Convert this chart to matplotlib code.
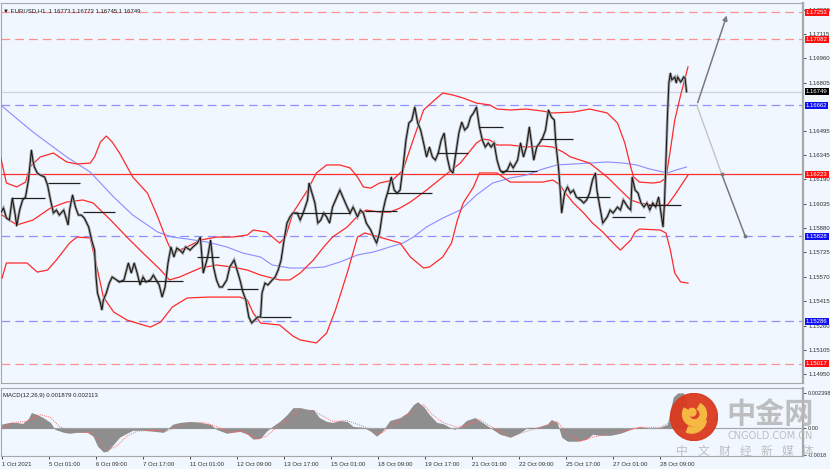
import matplotlib
matplotlib.use("Agg")
import matplotlib.pyplot as plt
import matplotlib.patches as mpatches
import matplotlib.transforms as mtrans

plt.rcParams['font.family'] = ['Liberation Sans', 'DejaVu Sans']

# ---- price path (bar number, close) ----
bar_idx = [-1, 1, 3, 5, 7, 9, 10, 12, 14, 16, 18, 20, 21, 22, 24, 26, 29, 31, 33, 35, 37, 39, 42, 44, 45, 46, 48, 50,
           52, 54, 56, 59, 61, 63, 64, 65, 67, 68, 69, 71, 73, 75, 78, 80, 83, 86, 88, 90, 92, 94, 96, 98, 101, 103,
           105, 107, 109, 111, 113, 115, 117, 119, 121, 123, 125, 128, 130, 133, 135, 137, 140, 142, 144, 146, 148,
           150, 153, 155, 158, 160, 162, 164, 166, 168, 170, 172, 174, 176, 177, 179, 181, 184, 186, 188, 190, 192,
           194, 196, 198, 201, 203, 205, 208, 209, 211, 213, 215, 217, 219, 221, 223, 225, 228, 230, 232, 235, 237,
           239, 242, 244, 246, 248, 251, 253, 255, 257, 259, 261, 263, 265, 267, 269, 271, 273, 275, 277, 279, 281,
           283, 285, 287, 289, 291, 293, 295, 297, 299, 301, 303, 305, 307, 309, 311, 313, 315, 317, 319, 321, 323,
           325, 327, 329, 331, 333, 335, 337, 339, 341, 344, 346, 348, 351, 353, 355, 357, 359, 362, 364, 366, 368,
           370, 372, 374, 376, 377, 379, 380, 381, 383, 385, 387, 389, 391, 394, 396, 398, 400, 402, 404, 405, 407,
           409, 412, 414, 416, 419, 421, 423, 426, 428, 429, 431, 433, 435, 437, 439, 441, 443, 445, 447, 449, 450,
           451, 452, 453, 454, 455, 456, 458, 459, 460, 462, 463, 464, 465, 466]
close = [1.15976, 1.16008, 1.15944, 1.15931, 1.16072, 1.15963, 1.15893, 1.15995, 1.16059, 1.16078, 1.16186, 1.16377,
         1.16313, 1.16269, 1.16231, 1.16218, 1.16205, 1.16154, 1.16059, 1.15976, 1.15995, 1.15963, 1.15995, 1.15931,
         1.15900, 1.15995, 1.16091, 1.16014, 1.15963, 1.15963, 1.15944, 1.15887, 1.15804, 1.15740, 1.15569, 1.15467,
         1.15403, 1.15359, 1.15422, 1.15467, 1.15530, 1.15569, 1.15550, 1.15537, 1.15550, 1.15658, 1.15594, 1.15658,
         1.15594, 1.15518, 1.15569, 1.15537, 1.15550, 1.15581, 1.15550, 1.15518, 1.15441, 1.15505, 1.15658, 1.15760,
         1.15696, 1.15753, 1.15740, 1.15721, 1.15760, 1.15740, 1.15760, 1.15785, 1.15823, 1.15594, 1.15696, 1.15804,
         1.15632, 1.15550, 1.15505, 1.15505, 1.15550, 1.15632, 1.15677, 1.15613, 1.15550, 1.15473, 1.15422, 1.15314,
         1.15276, 1.15295, 1.15314, 1.15314, 1.15467, 1.15530, 1.15518, 1.15550, 1.15569, 1.15613, 1.15677, 1.15804,
         1.15912, 1.15951, 1.15976, 1.15976, 1.15931, 1.15976, 1.16059, 1.16167, 1.16103, 1.16040, 1.15912, 1.15931,
         1.15976, 1.15951, 1.15912, 1.16014, 1.16078, 1.16122, 1.16078, 1.16014, 1.15976, 1.16014, 1.15951, 1.15995,
         1.15976, 1.15912, 1.15868, 1.15823, 1.15785, 1.15849, 1.15976, 1.16059, 1.16122, 1.16205, 1.16122, 1.16103,
         1.16122, 1.16269, 1.16441, 1.16549, 1.16568, 1.16651, 1.16549, 1.16504, 1.16422, 1.16333, 1.16396, 1.16333,
         1.16313, 1.16358, 1.16441, 1.16485, 1.16333, 1.16250, 1.16231, 1.16358, 1.16485, 1.16555, 1.16504, 1.16524,
         1.16587, 1.16613, 1.16651, 1.16524, 1.16441, 1.16396, 1.16422, 1.16396, 1.16422, 1.16313, 1.16250, 1.16231,
         1.16250, 1.16294, 1.16263, 1.16313, 1.16422, 1.16333, 1.16396, 1.16524, 1.16313, 1.16396, 1.16422, 1.16453,
         1.16504, 1.16632, 1.16587, 1.16568, 1.16422, 1.16250, 1.16122, 1.15976, 1.16103, 1.16142, 1.16103, 1.16122,
         1.16078, 1.16059, 1.16040, 1.16059, 1.16103, 1.16186, 1.16231, 1.16122, 1.16014, 1.15912, 1.15951, 1.15995,
         1.15976, 1.16014, 1.15995, 1.16059, 1.16014, 1.15995, 1.16205, 1.16122, 1.16103, 1.16040, 1.16014, 1.16040,
         1.15995, 1.16040, 1.16014, 1.16078, 1.15951, 1.15887, 1.16040, 1.16313, 1.16587, 1.16804, 1.16867, 1.16823,
         1.16842, 1.16804, 1.16842, 1.16810, 1.16823, 1.16842, 1.16835, 1.16749]

# daily marker lines: start bar, end bar, price
day_start = [7, 31, 55, 78, 133, 153, 176, 199, 247, 262, 296, 325, 339, 366, 392, 415, 440]
day_end = [29, 53, 77, 123, 148, 174, 197, 237, 269, 293, 317, 341, 364, 389, 414, 438, 462]
day_price = [1.16072, 1.16167, 1.15982, 1.15543, 1.15696, 1.15492, 1.15314, 1.15976, 1.15989, 1.16103, 1.16358,
             1.16524, 1.16243, 1.16447, 1.16078, 1.15951, 1.16027]

# bollinger bands
up_idx = [-1, 3, 10, 16, 19, 26, 35, 44, 51, 60, 63, 67, 71, 75, 80, 89, 99, 106, 112, 116, 126, 135, 146, 157, 167,
          171, 180, 189, 193, 198, 208, 214, 221, 230, 237, 242, 246, 251, 257, 266, 273, 278, 287, 293, 300, 307,
          314, 323, 332, 337, 346, 357, 368, 375, 389, 400, 412, 419, 424, 428, 430, 434, 443, 448, 452, 455, 458,
          462, 467]
up_val = [1.16333, 1.16167, 1.16142, 1.16173, 1.16269, 1.16333, 1.16358, 1.16301, 1.16288, 1.16294, 1.16333, 1.16428,
          1.16466, 1.16428, 1.16358, 1.16205, 1.16103, 1.15951, 1.15804, 1.15721, 1.15760, 1.15804, 1.15823, 1.15823,
          1.15836, 1.15868, 1.15855, 1.15785, 1.15823, 1.15976, 1.16122, 1.16231, 1.16282, 1.16282, 1.16263, 1.16205,
          1.16142, 1.16135, 1.16167, 1.16186, 1.16250, 1.16390, 1.16632, 1.16683, 1.16740, 1.16727, 1.16708, 1.16676,
          1.16664, 1.16638, 1.16632, 1.16638, 1.16625, 1.16613, 1.16619, 1.16638, 1.16613, 1.16549, 1.16422, 1.16269,
          1.16205, 1.16173, 1.16167, 1.16173, 1.16199, 1.16377, 1.16568, 1.16727, 1.16906]
mid_idx = [0, 10, 21, 33, 44, 55, 62, 74, 85, 96, 108, 114, 121, 135, 146, 157, 167, 176, 189, 196, 203, 212, 219,
           225, 235, 244, 248, 257, 264, 271, 278, 289, 300, 312, 323, 327, 332, 337, 346, 357, 368, 375, 382, 387,
           400, 412, 421, 428, 434, 443, 453, 458, 467]
mid_val = [1.15963, 1.15900, 1.15931, 1.16008, 1.16046, 1.16059, 1.16040, 1.15931, 1.15823, 1.15721, 1.15613, 1.15550,
           1.15569, 1.15626, 1.15645, 1.15632, 1.15613, 1.15581, 1.15550, 1.15550, 1.15594, 1.15677, 1.15760, 1.15823,
           1.15887, 1.15976, 1.15995, 1.15982, 1.15982, 1.16008, 1.16046, 1.16122, 1.16205, 1.16294, 1.16422, 1.16447,
           1.16441, 1.16409, 1.16409, 1.16396, 1.16403, 1.16396, 1.16364, 1.16333, 1.16294, 1.16205, 1.16122, 1.16059,
           1.16040, 1.16027, 1.16027, 1.16091, 1.16218]
low_idx = [0, 3, 17, 24, 31, 37, 46, 51, 60, 65, 69, 76, 85, 94, 101, 108, 116, 126, 140, 153, 162, 167, 171, 176,
           189, 198, 203, 214, 221, 227, 235, 242, 247, 257, 271, 278, 287, 291, 300, 306, 310, 314, 321, 325, 337,
           341, 346, 355, 368, 375, 380, 383, 389, 396, 402, 409, 416, 421, 428, 431, 434, 448, 452, 455, 458, 462, 467]
low_val = [1.15562, 1.15658, 1.15658, 1.15600, 1.15613, 1.15677, 1.15785, 1.15823, 1.15817, 1.15613, 1.15441, 1.15346,
           1.15295, 1.15269, 1.15250, 1.15282, 1.15378, 1.15435, 1.15441, 1.15441, 1.15441, 1.15422, 1.15340, 1.15276,
           1.15263, 1.15193, 1.15168, 1.15149, 1.15212, 1.15359, 1.15594, 1.15823, 1.15849, 1.15823, 1.15785, 1.15696,
           1.15626, 1.15632, 1.15696, 1.15785, 1.15931, 1.16040, 1.16142, 1.16231, 1.16231, 1.16205, 1.16173, 1.16173,
           1.16173, 1.16186, 1.16154, 1.16110, 1.16040, 1.15976, 1.15912, 1.15855, 1.15785, 1.15740, 1.15804, 1.15855,
           1.15874, 1.15868, 1.15849, 1.15740, 1.15594, 1.15537, 1.15530]

# slow moving average (blue)
ma_idx = [-1, 21, 44, 60, 76, 89, 106, 116, 126, 140, 153, 164, 176, 184, 196, 208, 219, 230, 242, 253, 264, 273, 280,
          289, 300, 312, 323, 334, 346, 357, 368, 378, 389, 400, 412, 423, 432, 441, 453, 459, 466]
ma_val = [1.16664, 1.16492, 1.16333, 1.16237, 1.16078, 1.15963, 1.15855, 1.15823, 1.15811, 1.15791, 1.15760, 1.15721,
          1.15696, 1.15645, 1.15626, 1.15626, 1.15632, 1.15664, 1.15709, 1.15728, 1.15760, 1.15785, 1.15823, 1.15887,
          1.15944, 1.15995, 1.16091, 1.16167, 1.16199, 1.16218, 1.16256, 1.16282, 1.16288, 1.16294, 1.16301, 1.16294,
          1.16282, 1.16256, 1.16231, 1.16250, 1.16269]

# horizontal levels
red_dash_levels = [1.17253, 1.17082, 1.15017]
blue_dash_levels = [1.16662, 1.15828, 1.15286]
red_solid_level = 1.16223
last_price = 1.16749
level_tags = [("1.17253", 1.17253, "#FF1010"), ("1.17082", 1.17082, "#FF1010"), ("1.16749", 1.16749, "#000000"),
              ("1.16662", 1.16662, "#1010F0"), ("1.16223", 1.16223, "#FF1010"), ("1.15828", 1.15828, "#1010F0"),
              ("1.15286", 1.15286, "#1010F0"), ("1.15017", 1.15017, "#FF1010")]

# projection arrows (bar, price)
arrow_start = (473, 1.16662)
up_target = (494, 1.17250)
down_mid = (490, 1.16223)
down_target = (506, 1.15828)

# 1.16650 sits under the 1.16662 tag in the original, so it is left out
price_ticks = [1.17270, 1.17115, 1.16960, 1.16805, 1.16495, 1.16345, 1.16190, 1.16035, 1.15880, 1.15725,
               1.15570, 1.15415, 1.15260, 1.15105, 1.14950]

# MACD
hist_idx = [-1, 5, 10, 14, 18, 20, 24, 28, 33, 36, 42, 46, 51, 58, 62, 65, 69, 72, 76, 80, 85, 89, 96, 103, 110, 114,
            116, 121, 128, 135, 142, 146, 153, 157, 162, 167, 171, 176, 180, 184, 189, 194, 198, 203, 208, 212, 216,
            221, 225, 230, 235, 239, 246, 251, 255, 259, 264, 271, 276, 280, 283, 287, 291, 296, 300, 305, 308, 312,
            316, 322, 326, 332, 339, 346, 353, 358, 364, 371, 374, 378, 381, 385, 392, 398, 402, 407, 414, 421, 430,
            434, 441, 448, 453, 455, 457, 460, 464, 466]
hist_val = [0.00027, 0.00040, 0.00040, 0.00033, 0.00067, 0.00107, 0.00093, 0.00073, 0.00040, -0.00007, -0.00027,
            -0.00033, -0.00027, -0.00027, -0.00053, -0.00120, -0.00160, -0.00153, -0.00107, -0.00060, -0.00033,
            -0.00013, -0.00013, -0.00020, -0.00027, 0.00007, 0.00027, 0.00040, 0.00047, 0.00040, 0.00027, -0.00007,
            -0.00033, -0.00027, -0.00020, -0.00040, -0.00073, -0.00067, -0.00020, 0.00013, 0.00047, 0.00093, 0.00140,
            0.00140, 0.00127, 0.00127, 0.00073, 0.00047, 0.00040, 0.00053, 0.00047, 0.00013, 0.00007, -0.00020,
            -0.00053, -0.00020, 0.00053, 0.00073, 0.00107, 0.00160, 0.00180, 0.00147, 0.00093, 0.00040, 0.00033,
            0.00007, -0.00007, 0.00013, 0.00053, 0.00073, 0.00047, 0.00007, -0.00040, -0.00060, -0.00027, 0.00007,
            0.00007, 0.00027, 0.00060, 0.00040, -0.00060, -0.00087, -0.00087, -0.00073, -0.00040, -0.00047, -0.00047,
            -0.00033, 0.0, 0.00013, 0.0, 0.00007, 0.00027, 0.00127, 0.00213, 0.00240, 0.00240, 0.00188]
sig_idx = [-1, 7, 17, 26, 33, 39, 48, 60, 67, 71, 78, 85, 92, 101, 112, 119, 128, 137, 146, 155, 164, 174, 180, 187,
           196, 203, 212, 219, 225, 235, 244, 251, 257, 264, 273, 280, 287, 293, 300, 310, 319, 325, 334, 346, 355,
           366, 378, 385, 394, 402, 412, 423, 434, 448, 455, 460, 466]
sig_val = [-0.00007, 0.00040, 0.00047, 0.00093, 0.00073, 0.00013, -0.00027, -0.00027, -0.00087, -0.00153, -0.00120,
           -0.00053, -0.00020, -0.00013, -0.00020, 0.00013, 0.00040, 0.00040, 0.00013, -0.00027, -0.00020, -0.00073,
           -0.00053, 0.00007, 0.00073, 0.00133, 0.00120, 0.00080, 0.00047, 0.00053, 0.00020, -0.00007, -0.00040,
           0.00007, 0.00073, 0.00127, 0.00160, 0.00093, 0.00040, 0.00007, 0.00033, 0.00060, 0.00007, -0.00060, -0.00027,
           0.00007, 0.00047, -0.00040, -0.00087, -0.00060, -0.00040, -0.00020, 0.00007, 0.00007, 0.00040, 0.00173,
           0.00211]

date_ticks = [0, 32, 64, 96, 128, 160, 192, 224, 256, 288, 320, 352, 384, 416, 448]
date_labels = ["1 Oct 2021", "5 Oct 01:00", "6 Oct 09:00", "7 Oct 17:00", "11 Oct 01:00", "12 Oct 09:00",
               "13 Oct 17:00", "15 Oct 01:00", "18 Oct 09:00", "19 Oct 17:00", "21 Oct 01:00", "22 Oct 09:00",
               "25 Oct 17:00", "27 Oct 01:00", "28 Oct 09:00"]

# ---- figure ----
W, H = 830, 469
bg = '#F0F7FF'
fig = plt.figure(figsize=(W / 100, H / 100), dpi=100)
fig.patch.set_facecolor(bg)

ax = fig.add_axes([1 / W, 1 - 383 / H, 802 / W, 380 / H])
am = fig.add_axes([1 / W, 1 - 456 / H, 802 / W, 68 / H])
for a in (ax, am):
    a.set_facecolor(bg)
    for s in a.spines.values():
        s.set_color('#A8A8A8')
        s.set_linewidth(0.8)
    a.spines['right'].set_linewidth(1.6)
    a.set_xlim(-0.7, 545.3)

ax.set_ylim(1.14894, 1.17313)

# levels
for lv in red_dash_levels:
    ax.axhline(lv, color='#FF9090', lw=0.9, ls=(0, (7, 4)), zorder=1)
for lv in blue_dash_levels:
    ax.axhline(lv, color='#9090FF', lw=0.9, ls=(0, (7, 4)), zorder=1)
ax.axhline(red_solid_level, color='#FF3030', lw=0.9, zorder=2)
ax.axhline(last_price, color='#D0D4DA', lw=0.9, zorder=1)

# indicators
ax.plot(ma_idx, ma_val, color='#8C8CFF', lw=0.8, zorder=2)
ax.plot(up_idx, up_val, color='#FF2A2A', lw=0.9, zorder=3)
ax.plot(mid_idx, mid_val, color='#FF2A2A', lw=0.9, zorder=3)
ax.plot(low_idx, low_val, color='#FF2A2A', lw=0.9, zorder=3)

# price bars
ax.plot(bar_idx, close, color='#A4A4A4', lw=2.0, zorder=4, solid_joinstyle='miter')
ax.plot(bar_idx, close, color='#151515', lw=0.75, zorder=5)
ax.hlines(day_price, day_start, day_end, color='#202020', lw=0.9, zorder=5)

# projection arrows
ax.annotate('', xy=up_target, xytext=arrow_start,
            arrowprops=dict(arrowstyle='-|>', color='#7A7A7A', lw=1.1, mutation_scale=7), zorder=6)
ax.plot([arrow_start[0], down_mid[0]], [arrow_start[1], down_mid[1]], color='#C4C4C4', lw=1.0, zorder=6)
ax.plot([down_mid[0], down_target[0]], [down_mid[1], down_target[1]], color='#7A7A7A', lw=1.1, zorder=6)
ax.plot([down_mid[0], down_target[0]], [down_mid[1], down_target[1]], ls='none', marker='o', ms=1.8,
        color='#7A7A7A', zorder=6)

# price axis
ax.yaxis.tick_right()
ax.set_yticks(price_ticks)
ax.set_yticklabels(['%.5f' % v for v in price_ticks])
ax.tick_params(axis='y', labelsize=4.3, colors='#303030', length=2, width=0.6, pad=2)
ax.tick_params(axis='x', bottom=False, labelbottom=False)

trans = mtrans.blended_transform_factory(ax.transAxes, ax.transData)
for txt, lv, col in level_tags:
    ax.text(1.0035, lv, txt, transform=trans, fontsize=4.3, color='white', va='center', ha='left',
            clip_on=False, zorder=10, bbox=dict(facecolor=col, edgecolor='none', pad=0.8))

ax.text(0.003, 0.985, u'\u25bc EURUSD,H1  1.16773 1.16773 1.16745 1.16749', transform=ax.transAxes,
        fontsize=4.3, color='#202020', va='top', ha='left', family=['Liberation Sans', 'DejaVu Sans'])

# MACD panel
am.set_ylim(-0.00187, 0.00273)
am.axhline(0, color='#A8A8A8', lw=0.9, zorder=1)
am.fill_between(hist_idx, 0, hist_val, color='#8E8E8E', lw=0, zorder=2)
am.plot(sig_idx, sig_val, color='#FF6A6A', lw=0.7, ls=(0, (1, 1.2)), zorder=3)
am.yaxis.tick_right()
am.set_yticks([0.002398, 0.0, -0.0018])
am.set_yticklabels(['0.002398', '0.00', '-0.0018'])
am.tick_params(axis='y', labelsize=4.1, colors='#303030', length=2, width=0.6, pad=1.5)
am.set_xticks(date_ticks)
am.set_xticklabels(date_labels, ha='left')
am.tick_params(axis='x', labelsize=4.3, colors='#303030', length=2, width=0.6, pad=2)
am.text(0.003, 0.93, 'MACD(12,26,9) 0.001879 0.002113', transform=am.transAxes, fontsize=4.3,
        color='#202020', va='top', ha='left')

# watermark
cjk = ['Noto Sans CJK SC', 'DejaVu Sans']
wax = fig.add_axes([670 / W, 1 - 441 / H, 48 / W, 48 / H])
wax.set_xlim(-1, 1)
wax.set_ylim(-1, 1)
wax.set_aspect('equal')
wax.axis('off')
wax.add_patch(mpatches.Circle((0, 0), 0.98, color='#DA3A1E', alpha=0.95))
wax.add_patch(mpatches.Wedge((0.02, 0.12), 0.5, 150, 420, width=0.26, color='#F7B843'))
wax.add_patch(mpatches.Wedge((-0.1, -0.05), 0.62, 250, 350, width=0.24, color='#F7B843'))
wax.add_patch(mpatches.Circle((-0.08, 0.2), 0.16, color='#F7B843'))

fig.text(770 / W, 1 - 414 / H, u'中金网', fontsize=21, color='#B8B8B8', ha='center', va='center',
         family=cjk, weight='bold', alpha=0.9)
fig.text(770 / W, 1 - 436 / H, 'CNGOLD.COM.CN', fontsize=7, color='#B8B8B8', ha='center', va='center',
         family=['DejaVu Sans'], alpha=0.9)
for i, ch in enumerate(u'中文财经新媒体'):
    fig.text((682 + 21 * i) / W, 1 - 451 / H, ch, fontsize=8.5, color='#B8B8B8', ha='center', va='center',
             family=cjk, alpha=0.9)

fig.savefig('out.png', dpi=100, facecolor=bg)
